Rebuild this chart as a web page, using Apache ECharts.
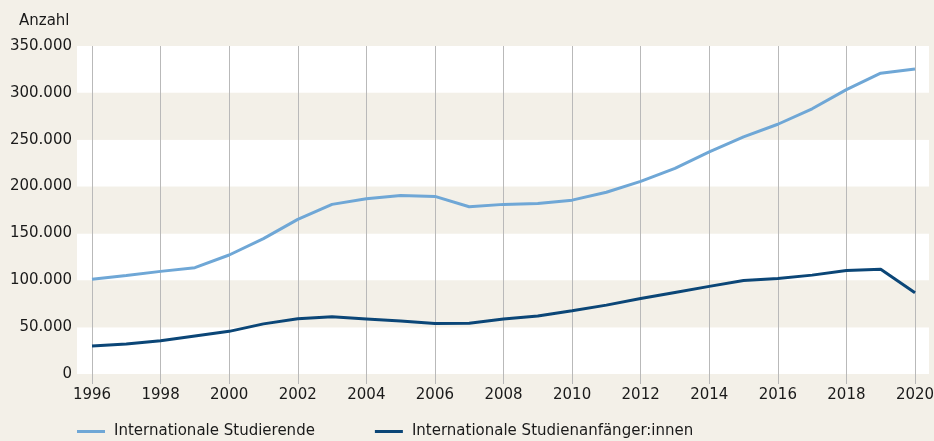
<!DOCTYPE html>
<html>
<head>
<meta charset="utf-8">
<script src="https://cdn.jsdelivr.net/npm/echarts@6/dist/echarts.min.js"></script>
<style>
  html, body { margin: 0; padding: 0; background: #f3f0e8; }
  #chart { width: 934px; height: 441px; }
</style>
</head>
<body>
<div id="chart"></div>
<script>
var years = [1996, 1997, 1998, 1999, 2000, 2001, 2002, 2003, 2004, 2005, 2006, 2007, 2008,
             2009, 2010, 2011, 2012, 2013, 2014, 2015, 2016, 2017, 2018, 2019, 2020];
var studierende = [101000, 105000, 109500, 113500, 127000, 144500, 165000, 181000, 187000, 190500,
                   189500, 178500, 181000, 182000, 185500, 194000, 205500, 219500, 237000, 253000,
                   266500, 283000, 303500, 321000, 325500];
var anfaenger = [30000, 32000, 35500, 40500, 45500, 53500, 59000, 61000, 58800, 56500,
                 54000, 54200, 58800, 61800, 67500, 73500, 80500, 87000, 93500, 99800,
                 101800, 105500, 110500, 111700, 86800];
var seriesNames = ['Internationale Studierende', 'Internationale Studienanfänger:innen'];
var yTicks = [0, 350000, 50000];

var beige = '#f3f0e8';
var gridGray = '#b9b9b9';
var font = 'DejaVu Sans';

function pairs(vals) {
  return years.map(function (y, i) { return [y, vals[i]]; });
}

function thousands(v) {
  return String(v).replace(/\B(?=(\d{3})+(?!\d))/g, '.');
}

var myChart = echarts.init(document.getElementById('chart'));
var option = {
  backgroundColor: beige,
  animation: false,
  textStyle: { fontFamily: font, color: '#1a1a1a' },
  title: {
    text: 'Anzahl',
    left: 14,
    top: 9,
    textStyle: { fontFamily: font, fontSize: 15, fontWeight: 'normal', color: '#1a1a1a' }
  },
  legend: {
    left: 77,
    top: 424,
    padding: 0,
    icon: 'rect',
    itemWidth: 28,
    itemHeight: 3,
    itemGap: 60,
    textStyle: { fontFamily: font, fontSize: 15, color: '#1a1a1a', padding: [0, 0, 0, 4] },
    data: seriesNames
  },
  grid: [
    { left: 77, right: 5, top: 46, bottom: 67, outerBoundsMode: 'none' },
    { left: 92, right: 19, top: 46, bottom: 67, outerBoundsMode: 'none' }
  ],
  xAxis: [
    { gridIndex: 0, type: 'value', min: 0, max: 1, show: false },
    {
      gridIndex: 1, type: 'value', min: 1996, max: 2020, interval: 2,
      axisLine: { show: false },
      axisTick: { show: true, length: 10, lineStyle: { color: gridGray } },
      splitLine: { show: true, lineStyle: { color: gridGray, width: 1 } },
      axisLabel: {
        fontFamily: font, fontSize: 15, color: '#1a1a1a', margin: 14,
        formatter: function (v) { return String(v); }
      }
    }
  ],
  yAxis: [
    {
      gridIndex: 0, type: 'value', min: yTicks[0], max: yTicks[1], interval: yTicks[2],
      axisLine: { show: false }, axisTick: { show: false },
      splitLine: { show: false },
      splitArea: { show: true, areaStyle: { color: ['#ffffff', beige] } },
      axisLabel: { fontFamily: font, fontSize: 15, color: '#1a1a1a', margin: 5, formatter: thousands }
    },
    {
      gridIndex: 1, type: 'value', min: yTicks[0], max: yTicks[1], interval: yTicks[2],
      show: false, splitLine: { show: false }
    }
  ],
  series: [
    {
      name: seriesNames[0], type: 'line', xAxisIndex: 1, yAxisIndex: 1,
      data: pairs(studierende), symbol: 'none',
      lineStyle: { color: '#6fa7d6', width: 3 }, itemStyle: { color: '#6fa7d6' }
    },
    {
      name: seriesNames[1], type: 'line', xAxisIndex: 1, yAxisIndex: 1,
      data: pairs(anfaenger), symbol: 'none',
      lineStyle: { color: '#0b4677', width: 3 }, itemStyle: { color: '#0b4677' }
    }
  ]
};
myChart.setOption(option);
</script>
</body>
</html>
